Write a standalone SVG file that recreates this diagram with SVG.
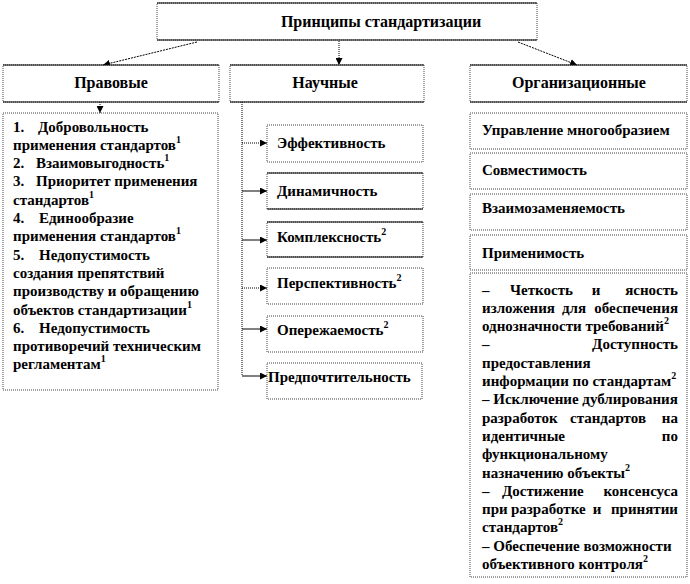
<svg xmlns="http://www.w3.org/2000/svg" width="690" height="584" viewBox="0 0 690 584">
<style>
text{font-weight:bold;fill:#000}
.h{font-size:16px}
.t{font-size:15px}
.sup{font-size:10px}
.dot{fill:#fff;stroke:#444;stroke-width:1;stroke-dasharray:1,1}
.sol{stroke:#000;stroke-width:1.2;fill:none}
.c{stroke:#000;stroke-width:1;fill:none}
.cd{stroke:#000;stroke-width:1;fill:none;stroke-dasharray:1,1}
.cdash{stroke:#000;stroke-width:1;fill:none;stroke-dasharray:2,1}
</style>
<defs>
<marker id="ah" viewBox="0 0 8 8" refX="8" refY="4" markerWidth="7" markerHeight="7" orient="auto" markerUnits="userSpaceOnUse">
<path d="M0,0 L8,4 L0,8 Z" fill="#000"/>
</marker>
</defs>

<g id="connectors">
<line class="cdash" x1="197" y1="42" x2="103" y2="65" marker-end="url(#ah)"/>
<line class="cd" x1="339" y1="41" x2="339" y2="65" marker-end="url(#ah)"/>
<line class="cdash" x1="518" y1="42" x2="577" y2="65" marker-end="url(#ah)"/>
<line class="cd" x1="100" y1="102" x2="100" y2="113" marker-end="url(#ah)"/>
<line class="cd" x1="242" y1="102" x2="242" y2="376"/>
<line class="cd" x1="242" y1="143" x2="267" y2="143" marker-end="url(#ah)"/>
<line class="c" x1="242" y1="191" x2="267" y2="191" marker-end="url(#ah)"/>
<line class="c" x1="242" y1="240" x2="267" y2="240" marker-end="url(#ah)"/>
<line class="cd" x1="242" y1="288" x2="267" y2="288" marker-end="url(#ah)"/>
<line class="c" x1="242" y1="329" x2="267" y2="329" marker-end="url(#ah)"/>
<line class="c" x1="242" y1="376" x2="267" y2="376" marker-end="url(#ah)"/>
</g>

<g font-family="Liberation Serif, Times New Roman, serif">
<g id="root">
<rect class="dot" x="157" y="3" width="380" height="37"/>
<line class="sol" x1="157" y1="3" x2="537" y2="3"/>
<line class="sol" x1="157" y1="40" x2="537" y2="40"/>
<text class="h" x="381" y="27" text-anchor="middle">Принципы стандартизации</text>
</g>

<g id="pravovye">
<rect class="dot" x="3" y="65" width="216" height="37"/>
<line class="sol" x1="3" y1="65" x2="219" y2="65"/>
<line class="sol" x1="3" y1="102" x2="219" y2="102"/>
<text class="h" x="111" y="88" text-anchor="middle">Правовые</text>
</g>

<g id="nauchnye">
<rect class="dot" x="230" y="65" width="194" height="37"/>
<line class="sol" x1="230" y1="65" x2="424" y2="65"/>
<line class="sol" x1="230" y1="102" x2="424" y2="102"/>
<text class="h" x="325" y="88" text-anchor="middle">Научные</text>
</g>

<g id="org">
<rect class="dot" x="470" y="65" width="217" height="37"/>
<line class="sol" x1="470" y1="65" x2="687" y2="65"/>
<line class="sol" x1="470" y1="102" x2="687" y2="102"/>
<text class="h" x="579" y="88" text-anchor="middle">Организационные</text>
</g>

<g id="pravovye-list">
<rect class="dot" x="3" y="113" width="215" height="277"/>
<text class="t" x="13" y="131.5">1.</text><text class="t" x="38" y="131.5">Добровольность</text>
<text class="t" x="13" y="149.8">применения стандартов<tspan class="sup" dy="-7">1</tspan></text>
<text class="t" x="13" y="168.1">2.</text><text class="t" x="36" y="168.1">Взаимовыгодность<tspan class="sup" dy="-7">1</tspan></text>
<text class="t" x="13" y="186.4">3.</text><text class="t" x="36" y="186.4">Приоритет применения</text>
<text class="t" x="13" y="204.7">стандартов<tspan class="sup" dy="-7">1</tspan></text>
<text class="t" x="13" y="223">4.</text><text class="t" x="39" y="223">Единообразие</text>
<text class="t" x="13" y="241.3">применения стандартов<tspan class="sup" dy="-7">1</tspan></text>
<text class="t" x="13" y="259.6">5.</text><text class="t" x="39" y="259.6">Недопустимость</text>
<text class="t" x="13" y="277.9">создания препятствий</text>
<text class="t" x="13" y="296.2">производству и обращению</text>
<text class="t" x="13" y="314.5">объектов  стандартизации<tspan class="sup" dy="-7">1</tspan></text>
<text class="t" x="13" y="332.8">6.</text><text class="t" x="39" y="332.8">Недопустимость</text>
<text class="t" x="13" y="351.1">противоречий техническим</text>
<text class="t" x="13" y="369.4">регламентам<tspan class="sup" dy="-7">1</tspan></text>
</g>

<g id="n1">
<rect class="dot" x="267" y="125" width="156" height="37"/>
<text class="t" x="277" y="148">Эффективность</text>
</g>
<g id="n2">
<rect class="dot" x="267" y="173" width="156" height="36"/>
<line class="sol" x1="267" y1="173" x2="423" y2="173"/>
<line class="sol" x1="267" y1="209" x2="423" y2="209"/>
<text class="t" x="277" y="196">Динамичность</text>
</g>
<g id="n3">
<rect class="dot" x="267" y="222" width="156" height="35"/>
<line class="sol" x1="267" y1="222" x2="423" y2="222"/>
<line class="sol" x1="267" y1="257" x2="423" y2="257"/>
<text class="t" x="277" y="242">Комплексность<tspan class="sup" dy="-7">2</tspan></text>
</g>
<g id="n4">
<rect class="dot" x="267" y="268" width="156" height="36"/>
<text class="t" x="277" y="288">Перспективность<tspan class="sup" dy="-7">2</tspan></text>
</g>
<g id="n5">
<rect class="dot" x="267" y="316" width="156" height="36"/>
<text class="t" x="277" y="335">Опережаемость<tspan class="sup" dy="-7">2</tspan></text>
</g>
<g id="n6">
<rect class="dot" x="267" y="363" width="155" height="36"/>
<text class="t" x="268" y="382">Предпочтительность</text>
</g>

<g id="o1">
<rect class="dot" x="470" y="113" width="217" height="36"/>
<text class="t" x="482" y="135">Управление многообразием</text>
</g>
<g id="o2">
<rect class="dot" x="470" y="153" width="217" height="36"/>
<text class="t" x="482" y="175">Совместимость</text>
</g>
<g id="o3">
<rect class="dot" x="470" y="194" width="217" height="36"/>
<text class="t" x="482" y="213">Взаимозаменяемость</text>
</g>
<g id="o4">
<rect class="dot" x="470" y="235" width="217" height="35"/>
<text class="t" x="482" y="258">Применимость</text>
</g>
<g id="o5">
<rect class="dot" x="470" y="273" width="217" height="304"/>
<text class="t" x="482" y="294.5">–</text><text class="t" x="510" y="294.5">Четкость</text><text class="t" x="596" y="294.5" text-anchor="middle">и</text><text class="t" x="678" y="294.5" text-anchor="end">ясность</text>
<text class="t" x="482" y="312.8">изложения</text><text class="t" x="574" y="312.8" text-anchor="middle">для</text><text class="t" x="678" y="312.8" text-anchor="end">обеспечения</text>
<text class="t" x="482" y="331.1">однозначности требований<tspan class="sup" dy="-7">2</tspan></text>
<text class="t" x="482" y="349.4">–</text><text class="t" x="678" y="349.4" text-anchor="end">Доступность</text>
<text class="t" x="482" y="367.7">предоставления</text>
<text class="t" x="482" y="386">информации по стандартам<tspan class="sup" dy="-7">2</tspan></text>
<text class="t" x="482" y="404.3">– Исключение дублирования</text>
<text class="t" x="482" y="422.6">разработок</text><text class="t" x="570" y="422.6">стандартов</text><text class="t" x="678" y="422.6" text-anchor="end">на</text>
<text class="t" x="482" y="440.9">идентичные</text><text class="t" x="678" y="440.9" text-anchor="end">по</text>
<text class="t" x="482" y="459.2">функциональному</text>
<text class="t" x="482" y="477.5">назначению объекты<tspan class="sup" dy="-7">2</tspan></text>
<text class="t" x="482" y="495.8">–</text><text class="t" x="502" y="495.8">Достижение</text><text class="t" x="678" y="495.8" text-anchor="end">консенсуса</text>
<text class="t" x="482" y="514.1">при</text><text class="t" x="511" y="514.1">разработке</text><text class="t" x="597" y="514.1" text-anchor="middle">и</text><text class="t" x="678" y="514.1" text-anchor="end">принятии</text>
<text class="t" x="482" y="532.4">стандартов<tspan class="sup" dy="-7">2</tspan></text>
<text class="t" x="482" y="550.7">– Обеспечение возможности</text>
<text class="t" x="482" y="569">объективного контроля<tspan class="sup" dy="-7">2</tspan></text>
</g>
</g>
</svg>
